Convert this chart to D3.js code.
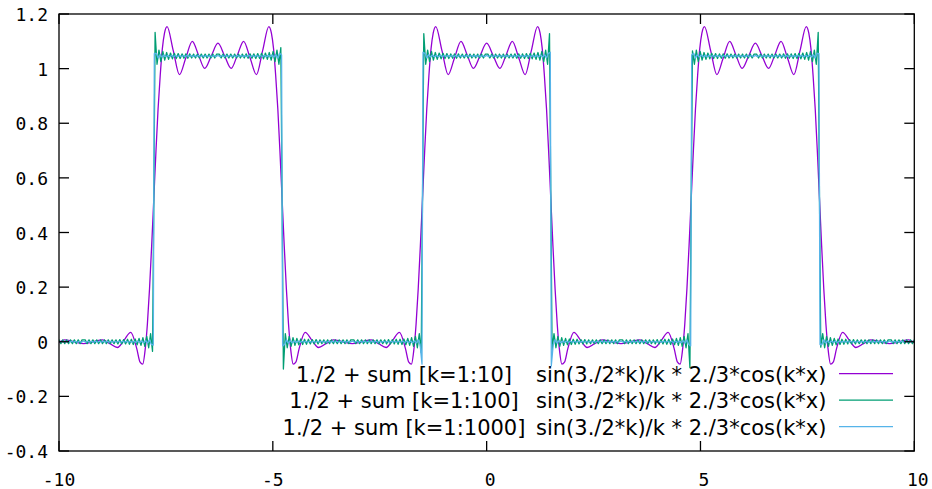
<!DOCTYPE html>
<html><head><meta charset="utf-8">
<script src="https://cdn.jsdelivr.net/npm/d3@7"></script>
<style>body{margin:0;background:#fff}svg{display:block}</style>
</head><body>
<svg id="chart" width="932" height="489"></svg>
<script>
// ---------------- data ----------------
const xTicks = [-10, -5, 0, 5, 10];
const xTickLabels = ["-10", "-5", "0", "5", "10"];
const yTicks = [-0.4, -0.2, 0, 0.2, 0.4, 0.6, 0.8, 1, 1.2];
const yTickLabels = ["-0.4", "-0.2", "0", "0.2", "0.4", "0.6", "0.8", "1", "1.2"];

const legendLeft = ["1./2 + sum [k=1:10]", "1./2 + sum [k=1:100]", "1./2 + sum [k=1:1000]"];
const legendRight = ["sin(3./2*k)/k * 2./3*cos(k*x)", "sin(3./2*k)/k * 2./3*cos(k*x)", "sin(3./2*k)/k * 2./3*cos(k*x)"];
const seriesColors = ["#9400d3", "#009e73", "#56b4e9"];

// k=1:10 curve: one half-period profile, distance from plateau centre -> value
const purpleT = [0, 0.155, 0.31, 0.455, 0.60, 0.75, 0.90, 1.045, 1.19, 1.25, 1.30, 1.35, 1.40, 1.45, 1.50, 1.55, 1.60, 1.65, 1.70, 1.76, 1.82, 1.90, 2.04, 2.195, 2.35, 2.525, 2.70, 2.92, 3.1416];
const purpleV = [1.093, 1.047, 1.001, 1.050, 1.100, 1.040, 0.978, 1.066, 1.154, 1.130, 1.073, 0.975, 0.853, 0.696, 0.523, 0.351, 0.194, 0.065, -0.026, -0.082, -0.075, -0.024, 0.034, 0.006, -0.021, -0.007, 0.007, 0.000, -0.007];
const purplePeriod = 6.2832;

// k=1:100 and k=1:1000 curves: jumps, plateau levels, spikes at jumps, ripple
const edgesX = [-11.066, -7.783, -4.783, -1.5, 1.5, 4.783, 7.783, 11.066];
const segmentLevels = ["low", "high", "low", "high", "low", "high", "low"];
const plateauHigh = 1.046;
const plateauLow = 0.0;
const edgeMid = 0.523;
const greenHighSpike = [1.10, 1.133, 1.077, 1.128, 1.128, 1.065, 1.133, 1.10];
const greenLowSpike = [-0.03, -0.035, -0.100, -0.040, -0.030, -0.095, -0.020, -0.03];
const greenRipple = [-0.030, 0.022, -0.020, 0.017, -0.015, 0.013, -0.012, 0.011, -0.010, 0.010, -0.009, 0.009, -0.009, 0.008, -0.008, 0.008, -0.008, 0.008, -0.007, 0.007, -0.007, 0.007, -0.007, 0.007, -0.007, 0.007, -0.007, 0.007, -0.007, 0.007, -0.007, 0.007, -0.007, 0.007, -0.007, 0.007, -0.007];
const blueHighSpike = [1.06, 1.055, 1.050, 1.060, 1.060, 1.050, 1.055, 1.06];
const blueLowSpike = [-0.01, -0.012, -0.015, -0.082, -0.088, -0.015, -0.010, -0.01];
const blueRipple = [0.010, -0.007, 0.005, -0.004, 0.004, -0.003, 0.003, -0.003, 0.003, -0.002, 0.002, -0.002, 0.002, -0.002, 0.002, -0.002, 0.002, -0.002, 0.002, -0.002, 0.002, -0.002, 0.002, -0.002, 0.002, -0.002, 0.002, -0.002, 0.002, -0.002, 0.002, -0.002, 0.002, -0.002, 0.002, -0.002, 0.002];

// ---------------- layout ----------------
const L = 59, R = 914.3, T = 14, B = 451;
const svg = d3.select("#chart");
const x = d3.scaleLinear().domain([-10, 10]).range([L, R]);
const y = d3.scaleLinear().domain([-0.4, 1.2]).range([B, T]);

// ---------------- build series ----------------
function buildPurple() {
  const pts = [];
  for (let n = -2; n <= 2; n++) {
    const c = n * purplePeriod;
    purpleT.forEach((t, i) => {
      pts.push([c + t, purpleV[i]]);
      pts.push([c - t, purpleV[i]]);
    });
  }
  pts.sort((a, b) => a[0] - b[0]);
  const out = [];
  pts.forEach(p => {
    if (p[0] < -10.8 || p[0] > 10.8) return;
    if (out.length && Math.abs(out[out.length - 1][0] - p[0]) < 1e-4) return;
    out.push(p);
  });
  return out;
}

function buildSquare(ripple, step, spikeDist, hiSpike, loSpike) {
  const pts = [];
  edgesX.forEach(e => pts.push([e, edgeMid]));
  for (let i = 0; i < edgesX.length - 1; i++) {
    const a = edgesX[i], b = edgesX[i + 1];
    const high = segmentLevels[i] === "high";
    const level = high ? plateauHigh : plateauLow;
    const sign = high ? 1 : -1;
    const half = (b - a) / 2;
    pts.push([a + spikeDist, high ? hiSpike[i] : loSpike[i]]);
    pts.push([b - spikeDist, high ? hiSpike[i + 1] : loSpike[i + 1]]);
    ripple.forEach((r, j) => {
      const d = spikeDist + step * (j + 1);
      if (d < half - 1e-6) {
        pts.push([a + d, level + sign * r]);
        pts.push([b - d, level + sign * r]);
      }
    });
  }
  pts.sort((p, q) => p[0] - q[0]);
  return pts;
}

const series = [
  { pts: buildPurple(), curve: d3.curveMonotoneX },
  { pts: buildSquare(greenRipple, 0.045, 0.03, greenHighSpike, greenLowSpike), curve: d3.curveLinear },
  { pts: buildSquare(blueRipple, 0.045, 0.012, blueHighSpike, blueLowSpike), curve: d3.curveLinear }
];

// ---------------- draw ----------------
svg.append("rect").attr("width", 932).attr("height", 489).attr("fill", "#fff");
svg.append("clipPath").attr("id", "clip").append("rect")
  .attr("x", L).attr("y", T).attr("width", R - L).attr("height", B - T);

const g = svg.append("g").attr("clip-path", "url(#clip)");
series.forEach((s, i) => {
  const line = d3.line().x(d => x(d[0])).y(d => y(d[1])).curve(s.curve);
  g.append("path").datum(s.pts).attr("d", line)
    .attr("fill", "none").attr("stroke", seriesColors[i]).attr("stroke-width", 1.3)
    .attr("stroke-linejoin", "round");
});

// border
svg.append("rect").attr("x", L).attr("y", T).attr("width", R - L).attr("height", B - T)
  .attr("fill", "none").attr("stroke", "#000").attr("stroke-width", 1.3);

// ticks (inward, mirrored)
const tickLen = 10;
yTicks.forEach((v, i) => {
  const py = y(v);
  svg.append("line").attr("x1", L).attr("x2", L + tickLen).attr("y1", py).attr("y2", py).attr("stroke", "#000").attr("stroke-width", 1.3);
  svg.append("line").attr("x1", R).attr("x2", R - tickLen).attr("y1", py).attr("y2", py).attr("stroke", "#000").attr("stroke-width", 1.3);
  svg.append("text").attr("x", 48).attr("y", py + 7).attr("text-anchor", "end")
    .attr("font-family", "DejaVu Sans Mono").attr("font-size", 18).attr("fill", "#000")
    .text(yTickLabels[i]);
});
xTicks.forEach((v, i) => {
  const px = x(v);
  svg.append("line").attr("x1", px).attr("x2", px).attr("y1", B).attr("y2", B - tickLen).attr("stroke", "#000").attr("stroke-width", 1.3);
  svg.append("line").attr("x1", px).attr("x2", px).attr("y1", T).attr("y2", T + tickLen).attr("stroke", "#000").attr("stroke-width", 1.3);
  svg.append("text").attr("x", px + (v >= 0 ? 3.5 : 0)).attr("y", 486).attr("text-anchor", "middle")
    .attr("font-family", "DejaVu Sans Mono").attr("font-size", 18).attr("fill", "#000")
    .text(xTickLabels[i]);
});

// legend
const legendY = [373.7, 400.2, 426.7];
legendLeft.forEach((txt, i) => {
  const ly = legendY[i];
  svg.append("text").attr("x", 404).attr("y", ly + 8).attr("text-anchor", "middle")
    .attr("font-family", "DejaVu Sans").attr("font-size", 21).attr("fill", "#000").text(txt);
  svg.append("text").attr("x", 536).attr("y", ly + 8).attr("text-anchor", "start")
    .attr("font-family", "DejaVu Sans").attr("font-size", 21).attr("fill", "#000").text(legendRight[i]);
  svg.append("line").attr("x1", 839).attr("x2", 893).attr("y1", ly).attr("y2", ly)
    .attr("stroke", seriesColors[i]).attr("stroke-width", 1.3);
});
</script>
</body></html>
